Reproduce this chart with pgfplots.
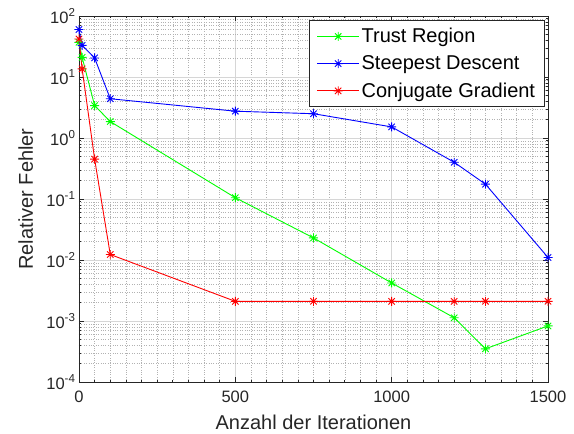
\documentclass[border=0pt]{standalone}
\usepackage{fontspec}
\setmainfont{Liberation Sans}
\usepackage{pgfplots}
\pgfplotsset{compat=1.18}
\definecolor{axgray}{gray}{0.15}
\pgfdeclareplotmark{mstar}{%
  \pgfpathmoveto{\pgfqpoint{-\pgfplotmarksize}{0pt}}\pgfpathlineto{\pgfqpoint{\pgfplotmarksize}{0pt}}%
  \pgfpathmoveto{\pgfqpoint{0pt}{-\pgfplotmarksize}}\pgfpathlineto{\pgfqpoint{0pt}{\pgfplotmarksize}}%
  \pgfpathmoveto{\pgfqpoint{-0.707\pgfplotmarksize}{-0.707\pgfplotmarksize}}\pgfpathlineto{\pgfqpoint{0.707\pgfplotmarksize}{0.707\pgfplotmarksize}}%
  \pgfpathmoveto{\pgfqpoint{-0.707\pgfplotmarksize}{0.707\pgfplotmarksize}}\pgfpathlineto{\pgfqpoint{0.707\pgfplotmarksize}{-0.707\pgfplotmarksize}}%
  \pgfusepathqstroke}
\begin{document}
\begin{tikzpicture}
\begin{axis}[
  name=ax,
  scale only axis,
  width=469pt, height=366pt,
  ymode=log, log basis y=10,
  xmin=0, xmax=1500, ymin=1e-4, ymax=1e2,
  xtick={0,500,1000,1500},
  minor x tick num=9,
  ytick={1e-4,1e-3,1e-2,1e-1,1,10,100},
  minor ytick={2e-4,3e-4,4e-4,5e-4,6e-4,7e-4,8e-4,9e-4,
               2e-3,3e-3,4e-3,5e-3,6e-3,7e-3,8e-3,9e-3,
               2e-2,3e-2,4e-2,5e-2,6e-2,7e-2,8e-2,9e-2,
               0.2,0.3,0.4,0.5,0.6,0.7,0.8,0.9,
               2,3,4,5,6,7,8,9,
               20,30,40,50,60,70,80,90},
  yticklabels={10\textsuperscript{-4},10\textsuperscript{-3},10\textsuperscript{-2},10\textsuperscript{-1},10\textsuperscript{0},10\textsuperscript{1},10\textsuperscript{2}},
  /pgf/number format/assume math mode=true,
  /pgf/number format/set thousands separator={},
  tick label style={font=\fontsize{16.5}{19}\selectfont, text=axgray},
  xticklabel shift=5pt,
  grid=both,
  major grid style={black!16, line width=0.6pt},
  minor grid style={black!30, dotted, line width=0.5pt},
  axis line style={axgray, line width=0.8pt},
  tick style={axgray, line width=0.6pt},
  tick align=inside,
  major tick length=5pt, minor tick length=2.5pt,
  xlabel={Anzahl der Iterationen},
  ylabel={Relativer Fehler},
  label style={font=\fontsize{20}{24}\selectfont, text=axgray},
  xlabel style={at={(axis description cs:0.5,-0.1311)}, anchor=base},
  ylabel style={at={(axis description cs:-0.0981,0.5)}, anchor=base},
  legend style={at={(rel axis cs:0.9936,0.989)}, anchor=north east,
    draw=axgray, line width=0.8pt, fill=white,
    font=\fontsize{20}{24}\selectfont, row sep=7.5pt, inner xsep=7.5pt, inner ysep=6pt},
  legend cell align=left,
  legend image code/.code={\draw[#1, mark repeat=2, mark phase=2] plot coordinates {(0pt,0pt) (21pt,0pt) (42pt,0pt)};},
  every axis plot/.append style={line width=0.9pt, mark=mstar, mark size=4.5pt, mark options={solid}},
]
\addplot[color=green] coordinates {
(0,37) (10,21) (50,3.4) (100,1.86) (500,0.105) (750,0.023) (1000,0.0042) (1200,0.00113) (1300,0.00035) (1500,0.00083)};
\addlegendentry{Trust Region}
\addplot[color=blue] coordinates {
(0,60) (10,33) (50,20.5) (100,4.4) (500,2.75) (750,2.5) (1000,1.52) (1200,0.4) (1300,0.175) (1500,0.011)};
\addlegendentry{Steepest Descent}
\addplot[color=red] coordinates {
(0,42) (10,13.6) (50,0.45) (100,0.0123) (500,0.0021) (750,0.0021) (1000,0.0021) (1200,0.0021) (1300,0.0021) (1500,0.0021)};
\addlegendentry{Conjugate Gradient}
\end{axis}
\pgfresetboundingbox
\path[use as bounding box] ([shift={(-79pt,-52pt)}]ax.south west) rectangle ([shift={(26pt,16pt)}]ax.north east);
\end{tikzpicture}
\end{document}
